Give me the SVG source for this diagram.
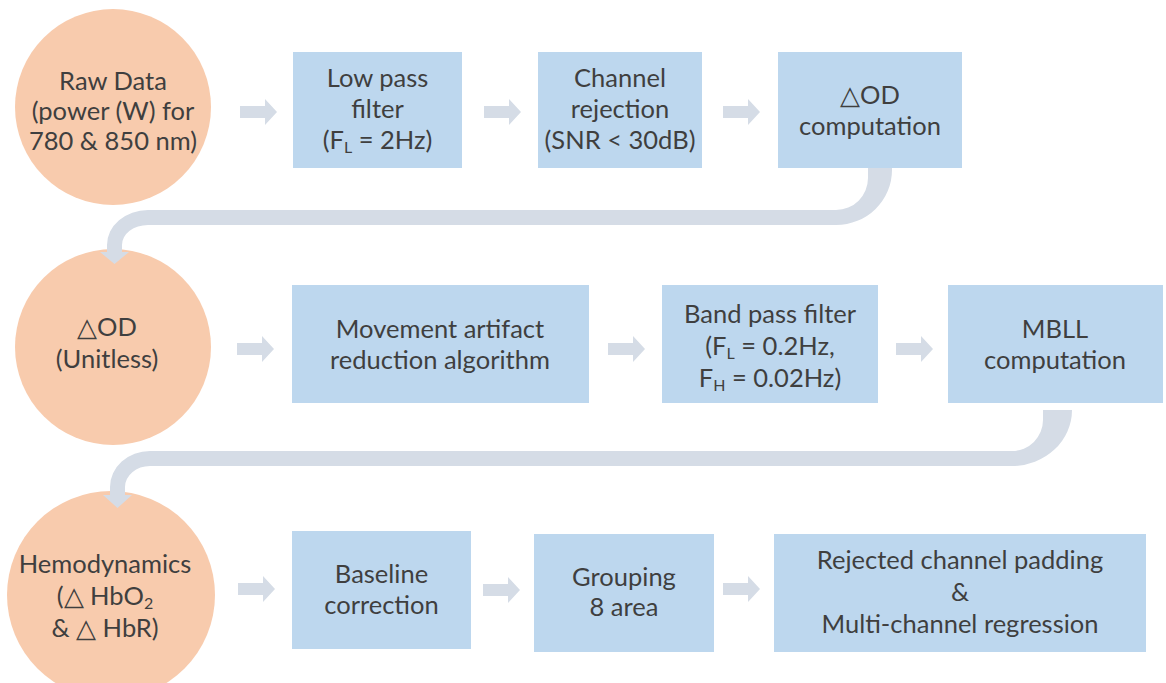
<svg xmlns="http://www.w3.org/2000/svg" xmlns:xlink="http://www.w3.org/1999/xlink" width="1166" height="683" viewBox="0 0 1166 683">
<style>
.c{fill:#f8cbad}
.b{fill:#bdd7ee}
.t{font-family:Lato,"Open Sans","Liberation Sans",sans-serif;font-size:25.5px;fill:#3f3f3f;text-anchor:middle}
.s{font-size:16px}
.k{fill:#d5dce6}
</style>
<defs>
<path id="arr" d="M0 -6 L25 -6 L25 -13 L37 0 L25 13 L25 6 L0 6 Z"/>
</defs>
<rect width="1166" height="683" fill="#ffffff"/>
<g id="raw"><circle class="c" cx="113" cy="107" r="98"/>
<text class="t" x="113"><tspan x="113" y="90">Raw Data</tspan><tspan x="113" y="120">(power (W) for</tspan><tspan x="113" y="150">780 &amp; 850 nm)</tspan></text></g>
<g id="lowpass"><rect class="b" x="293" y="52" width="169" height="116"/>
<text class="t"><tspan x="377.5" y="87">Low pass</tspan><tspan x="377.5" y="118">filter</tspan><tspan x="377.5" y="149">(F<tspan class="s" dy="4">L</tspan><tspan dy="-4"> = 2Hz)</tspan></tspan></text></g>
<g id="chrej"><rect class="b" x="538" y="52" width="164" height="116"/>
<text class="t"><tspan x="620" y="87">Channel</tspan><tspan x="620" y="118">rejection</tspan><tspan x="620" y="149">(SNR &lt; 30dB)</tspan></text></g>
<g id="odcomp"><rect class="b" x="778" y="52" width="184" height="116"/>
<text class="t"><tspan x="870" y="104">△OD</tspan><tspan x="870" y="135">computation</tspan></text></g>
<g id="od"><circle class="c" cx="113" cy="347" r="98"/>
<text class="t"><tspan x="107" y="336">△OD</tspan><tspan x="107" y="368">(Unitless)</tspan></text></g>
<g id="mar"><rect class="b" x="292" y="285" width="297" height="118"/>
<text class="t"><tspan x="440" y="338">Movement artifact</tspan><tspan x="440" y="369">reduction algorithm</tspan></text></g>
<g id="bpf"><rect class="b" x="662" y="285" width="216" height="118"/>
<text class="t"><tspan x="770" y="323">Band pass filter</tspan><tspan x="770" y="355">(F<tspan class="s" dy="4">L</tspan><tspan dy="-4"> = 0.2Hz,</tspan></tspan><tspan x="770" y="387">F<tspan class="s" dy="4">H</tspan><tspan dy="-4"> = 0.02Hz)</tspan></tspan></text></g>
<g id="mbll"><rect class="b" x="948" y="285" width="215" height="118"/>
<text class="t"><tspan x="1055" y="338">MBLL</tspan><tspan x="1055" y="369">computation</tspan></text></g>
<g id="hemo"><circle class="c" cx="111" cy="595" r="104"/>
<text class="t"><tspan x="105" y="573">Hemodynamics</tspan><tspan x="105" y="605">(△ HbO<tspan class="s" dy="4">2</tspan></tspan><tspan x="105" y="637">&amp; △ HbR)</tspan></text></g>
<g id="baseline"><rect class="b" x="292" y="531" width="179" height="118"/>
<text class="t"><tspan x="381.5" y="583">Baseline</tspan><tspan x="381.5" y="614">correction</tspan></text></g>
<g id="grouping"><rect class="b" x="534" y="534" width="180" height="118"/>
<text class="t"><tspan x="624" y="586">Grouping</tspan><tspan x="624" y="616">8 area</tspan></text></g>
<g id="reject"><rect class="b" x="774" y="534" width="372" height="118"/>
<text class="t"><tspan x="960" y="569">Rejected channel padding</tspan><tspan x="960" y="601">&amp;</tspan><tspan x="960" y="633">Multi-channel regression</tspan></text></g>
<g id="connectors" class="k">
<use xlink:href="#arr" x="240" y="112"/>
<use xlink:href="#arr" x="484" y="112"/>
<use xlink:href="#arr" x="723" y="112"/>
<use xlink:href="#arr" x="237" y="349"/>
<use xlink:href="#arr" x="608" y="349"/>
<use xlink:href="#arr" x="896" y="349"/>
<use xlink:href="#arr" x="238" y="589"/>
<use xlink:href="#arr" x="483" y="590"/>
<use xlink:href="#arr" x="723" y="589"/>
<path d="M868 168 L868 178 A32 32 0 0 1 836 210 L148 210 A41 35 0 0 0 107 245 L107 252 L100 252 L114.5 264 L129 252 L122 252 L122 245 A26 20 0 0 1 148 225 L836 225 A56 55 0 0 0 892 170 L892 168 Z"/>
<path d="M1043 410 L1043 420 A31 31 0 0 1 1012 451 L150 451 A40 36 0 0 0 110 487 L110 495 L103 495 L117.5 508 L132 495 L125 495 L125 487 A25 21 0 0 1 150 466 L1012 466 A60 56 0 0 0 1072 410 Z"/>
</g>
</svg>
